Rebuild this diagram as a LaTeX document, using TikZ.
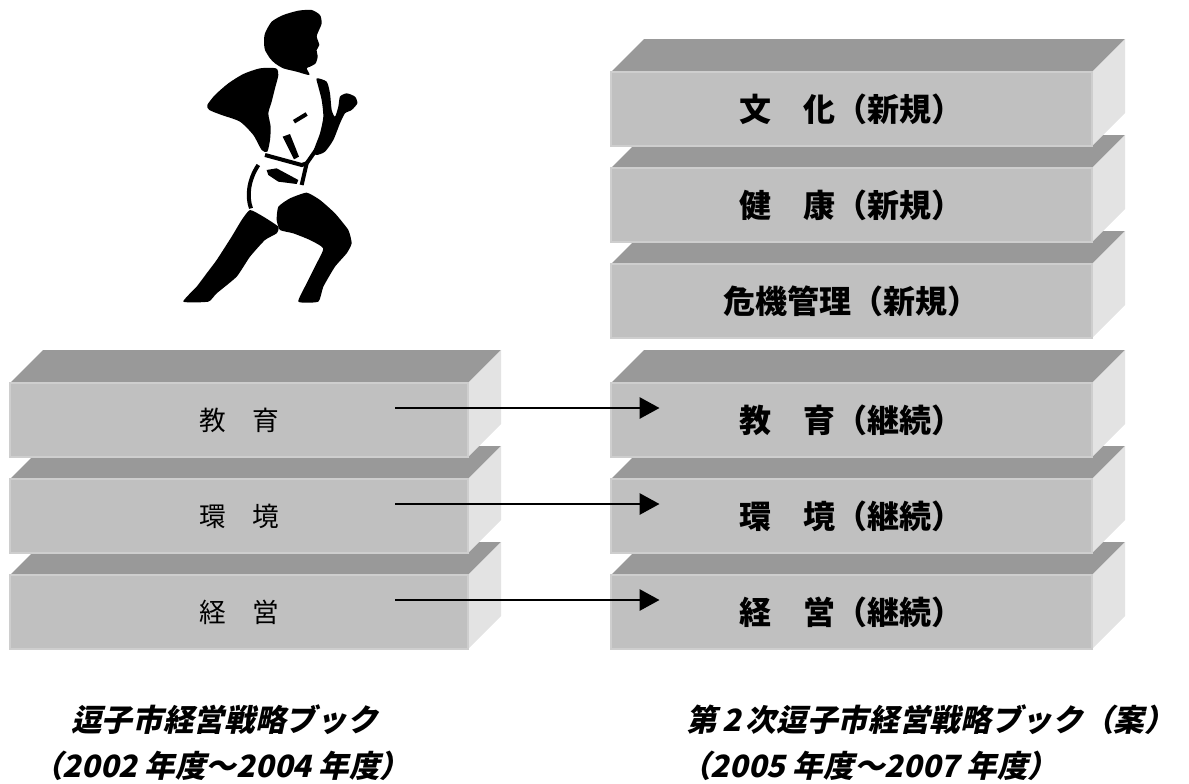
\documentclass[tikz,border=0pt]{standalone}
\usepackage{fontspec}
\usepackage{tikz}
\usetikzlibrary{arrows.meta,calc}
\newfontfamily\jp{Noto Sans CJK JP}
\newfontfamily\jpslant[FakeSlant=0.22]{Noto Sans CJK JP}
\definecolor{topgray}{HTML}{999999}
\definecolor{frontgray}{HTML}{C0C0C0}
\definecolor{sidegray}{HTML}{E3E3E3}
\definecolor{frontedge}{HTML}{CECECE}

\begin{document}
\begin{tikzpicture}[x=0.75pt, y=-0.75pt,
  topface/.style={fill=topgray},
  sideface/.style={fill=sidegray},
  frontface/.style={fill=frontgray, draw=frontedge, line width=1pt},
  oldlab/.style={font=\jp\fontsize{20pt}{20pt}\selectfont},
  newlab/.style={font=\jp\bfseries\fontsize{24pt}{24pt}\selectfont},
  caption/.style={font=\jpslant\bfseries\fontsize{23pt}{23pt}\selectfont, anchor=west, inner sep=0pt},
  link/.style={-{Triangle[length=15pt,width=16pt]}, line width=1.5pt}]
  \useasboundingbox (0,0) rectangle (1189,783);

  % Runner
  \begin{scope}[shift={(150,0)}, scale=1/3]
    \fill plot[smooth cycle, tension=0.4] coordinates {(345,100) (365,65) (400,45) (445,32) (485,30) (510,45) (515,70) (505,95) (500,110) (508,135) (500,150) (503,170) (497,190) (480,200) (470,205) (478,225) (440,215) (400,205) (375,190) (360,175) (345,150) (342,125)};
    \fill plot[smooth cycle, tension=0.4] coordinates {(330,205) (378,205) (385,225) (375,265) (365,305) (355,340) (362,380) (360,420) (352,455) (335,450) (310,405) (270,365) (215,345) (178,330) (172,315) (195,285) (235,250) (280,222)};
    \fill plot[smooth cycle, tension=0.4] coordinates {(500,235) (530,245) (540,280) (545,330) (555,350) (565,320) (570,290) (590,280) (615,290) (622,310) (605,330) (585,340) (570,370) (550,420) (525,455) (500,465) (490,455) (510,400) (520,350) (515,300) (505,260)};
    \fill plot[smooth cycle, tension=0.3] coordinates {(385,620) (420,595) (470,578) (510,600) (555,640) (595,690) (605,730) (590,760) (555,800) (520,860) (505,905) (445,905) (470,850) (500,790) (520,745) (480,720) (430,700) (390,690) (380,660)};
    \fill plot[smooth cycle, tension=0.3] coordinates {(300,630) (340,650) (385,680) (380,700) (345,720) (300,770) (260,830) (200,880) (175,905) (100,905) (140,860) (170,820) (200,780) (245,710) (275,660)};
    % singlet and shorts details
    \draw[line width=3pt] (345,465) -- (400,480) -- (455,495) -- (470,490);
    \draw[line width=3pt] (470,490) -- (455,555);
    \draw[line width=3pt] (545,370) -- (505,440) -- (470,490);
    \draw[line width=3pt] (432,365) -- (470,342);
    \fill (398,410) -- (420,402) -- (447,470) -- (432,478) -- cycle;
    \fill (350,510) -- (380,505) -- (445,540) -- (440,552) -- (385,545) -- (355,525) -- cycle;
    \draw[line width=3pt] (325,495) .. controls (295,540) and (290,590) .. (303,625);
  \end{scope}

  % Old book: three slabs, lowest first
  \foreach \n/\yf/\lab in {keiei/575/経　営, kankyo/479/環　境, kyoiku/383/教　育}{
    \fill[topface] (10,\yf) -- ++(33,-33) -- ++(458,0) -- ++(-33,33) -- cycle;
    \fill[sideface] (468,\yf) -- ++(33,-33) -- ++(0,74) -- ++(-33,33) -- cycle;
    \draw[frontface] (10,\yf) rectangle ++(458,74);
    \node[oldlab] (\n) at (239,\yf+37) {\lab};
  }

  % New book: six slabs, lowest first
  \foreach \n/\yf/\lab in {keieiN/575/経　営（継続）, kankyoN/479/環　境（継続）, kyoikuN/383/教　育（継続）,
                           kiki/264/危機管理（新規）, kenko/168/健　康（新規）, bunka/72/文　化（新規）}{
    \fill[topface] (611,\yf) -- ++(33,-33) -- ++(481,0) -- ++(-33,33) -- cycle;
    \fill[sideface] (1092,\yf) -- ++(33,-33) -- ++(0,74) -- ++(-33,33) -- cycle;
    \draw[frontface] (611,\yf) rectangle ++(481,74);
    \node[newlab] (\n) at (851.5,\yf+37) {\lab};
  }

  % Carried-over themes
  \foreach \a/\b in {kyoiku/kyoikuN, kankyo/kankyoN, keiei/keieiN}
    \draw[link] ($(\a)+(156,-12)$) -- ($(\b)+(-192,-12)$);

  % Titles
  \node[caption] (oldTitle) at (71,720) {逗子市経営戦略ブック};
  \node[caption] (oldYears) at (32,766) {（2002 年度～2004 年度）};
  \node[caption] (newTitle) at (686,720) {第\,2\,次逗子市経営戦略ブック（案）};
  \node[caption] (newYears) at (680,766) {（2005 年度～2007 年度）};
\end{tikzpicture}
\end{document}
